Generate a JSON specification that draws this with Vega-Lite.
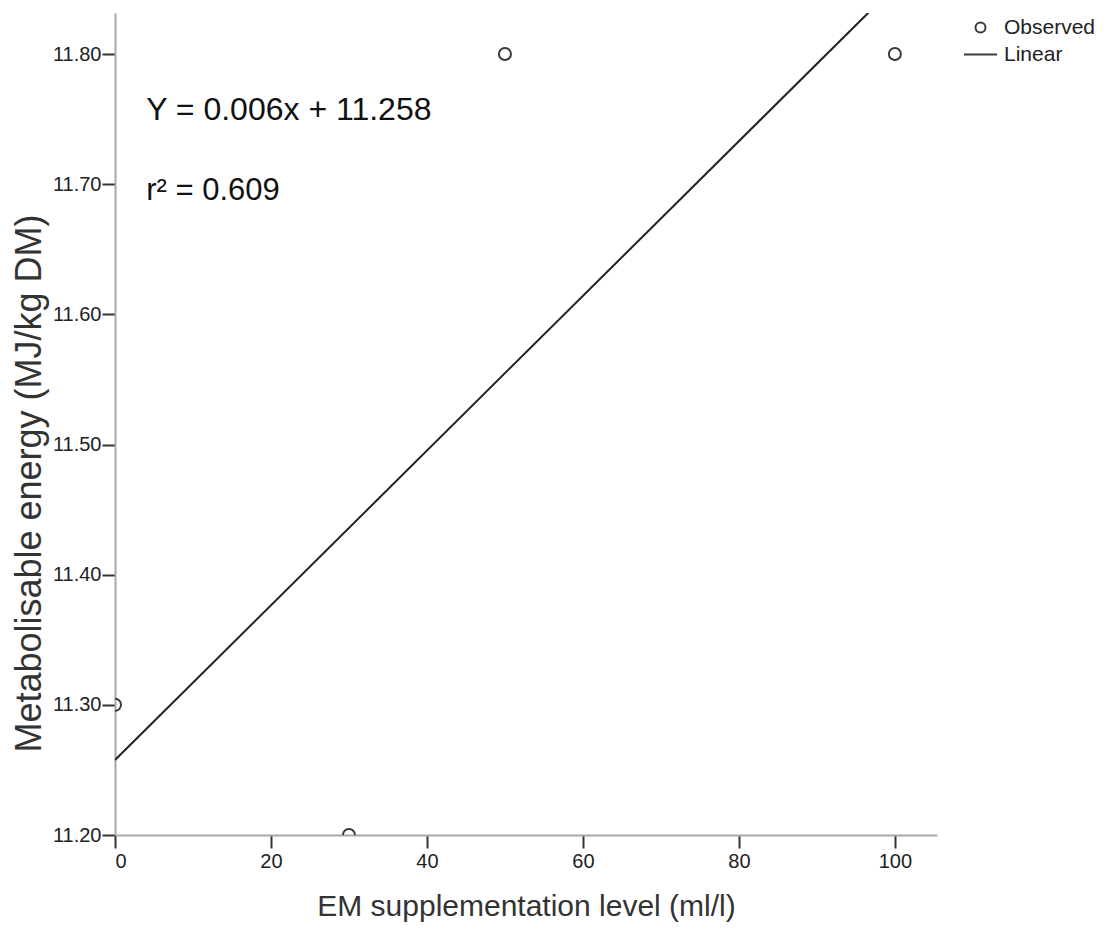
{
  "$schema": "https://vega.github.io/schema/vega-lite/v6.json",
  "autosize": "none",
  "width": 822,
  "height": 822,
  "padding": {"left": 115, "top": 13, "right": 171, "bottom": 94},
  "background": "white",
  "datasets": {
    "obs": [
      {"x": 0, "y": 11.3, "series": "Observed"},
      {"x": 30, "y": 11.2, "series": "Observed"},
      {"x": 50, "y": 11.8, "series": "Observed"},
      {"x": 100, "y": 11.8, "series": "Observed"}
    ],
    "fit": [
      {"x": 0, "y": 11.2576, "series": "Linear"},
      {"x": 96.6, "y": 11.8317, "series": "Linear"}
    ],
    "eq": [
      {"label": "Y = 0.006x + 11.258", "x": 4.0, "y": 11.7493}
    ],
    "r2": [
      {"label": "r² = 0.609", "x": 4.0, "y": 11.6878}
    ]
  },
  "config": {
    "view": {"stroke": null},
    "font": "Liberation Sans",
    "axis": {
      "grid": false,
      "domainColor": "#a8a8a8",
      "domainWidth": 2,
      "tickColor": "#333333",
      "tickWidth": 2,
      "tickSize": 13,
      "labelFont": "Liberation Sans",
      "labelFontSize": 20,
      "labelColor": "#222222",
      "titleFont": "Liberation Sans",
      "titleFontSize": 30,
      "titleFontWeight": "normal",
      "titleColor": "#333333"
    }
  },
  "layer": [
    {
      "data": {"name": "fit"},
      "mark": {"type": "line", "color": "#222222", "strokeWidth": 2, "clip": true},
      "encoding": {
        "x": {"field": "x", "type": "quantitative",
              "scale": {"domain": [0, 105.4], "nice": false, "zero": false},
              "axis": {"values": [0, 20, 40, 60, 80, 100], "labelPadding": 3,
                       "title": "EM supplementation level (ml/l)", "titlePadding": 20}},
        "y": {"field": "y", "type": "quantitative",
              "scale": {"domain": [11.2, 11.8315], "nice": false, "zero": false},
              "axis": {"values": [11.2, 11.3, 11.4, 11.5, 11.6, 11.7, 11.8], "format": ".2f",
                       "labelPadding": 1, "titleFontSize": 36, "titleY": 470,
                       "title": "Metabolisable energy (MJ/kg DM)", "titlePadding": 4}}
      }
    },
    {
      "data": {"name": "obs"},
      "mark": {"type": "point", "filled": false, "color": "#3a3a3a", "strokeWidth": 2, "size": 145, "opacity": 1, "clip": true},
      "encoding": {
        "x": {"field": "x", "type": "quantitative"},
        "y": {"field": "y", "type": "quantitative"},
        "shape": {"field": "series", "type": "nominal",
                  "scale": {"domain": ["Observed", "Linear"], "range": ["circle", "M-3.3,0L3.3,0"]},
                  "legend": {"title": null, "orient": "none", "legendX": 855, "legendY": 4,
                             "padding": 0, "labelFontSize": 21, "labelFont": "Liberation Sans",
                             "labelColor": "#222222", "labelOffset": 13, "rowPadding": 5,
                             "symbolStrokeWidth": 2}}
      }
    },
    {
      "data": {"name": "eq"},
      "mark": {"type": "text", "align": "left", "baseline": "alphabetic", "fontSize": 32, "color": "#111111", "font": "Liberation Sans"},
      "encoding": {
        "x": {"field": "x", "type": "quantitative"},
        "y": {"field": "y", "type": "quantitative"},
        "text": {"field": "label", "type": "nominal"}
      }
    },
    {
      "data": {"name": "r2"},
      "mark": {"type": "text", "align": "left", "baseline": "alphabetic", "fontSize": 31, "color": "#111111", "font": "Liberation Sans"},
      "encoding": {
        "x": {"field": "x", "type": "quantitative"},
        "y": {"field": "y", "type": "quantitative"},
        "text": {"field": "label", "type": "nominal"}
      }
    }
  ]
}
